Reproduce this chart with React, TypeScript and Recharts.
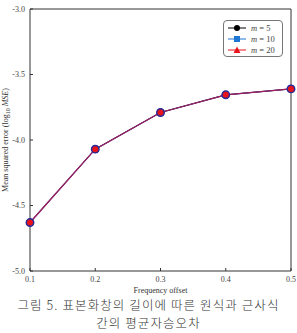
import React from 'react';
import { LineChart, Line, XAxis, YAxis, ReferenceLine } from 'recharts';

const offsets = [0.1, 0.2, 0.3, 0.4, 0.5];
const mse5 = [-4.63, -4.07, -3.79, -3.655, -3.61];
const mse10 = [-4.63, -4.07, -3.79, -3.655, -3.61];
const mse20 = [-4.63, -4.07, -3.79, -3.655, -3.61];
const xTicks = [0.1, 0.2, 0.3, 0.4, 0.5];
const yTicks = [-5.0, -4.5, -4.0, -3.5, -3.0];

const data = offsets.map((f, i) => ({ f, m5: mse5[i], m10: mse10[i], m20: mse20[i] }));

const serif = '"Liberation Serif", "Times New Roman", serif';
const tickStyle = { fontFamily: serif, fontSize: 8, fill: '#444' };

const YLabel = (props: any) => {
  const vb = props.viewBox || {};
  const cy = vb.y + vb.height / 2;
  return (
    <text
      x={0}
      y={0}
      transform={`translate(8, ${cy}) rotate(-90)`}
      textAnchor="middle"
      style={{ fontFamily: serif, fontSize: 8 }}
      fill="#333"
    >
      Mean squared error (log<tspan fontSize={6} dy={2}>10</tspan>
      <tspan dy={-2}> </tspan>
      <tspan fontStyle="italic">MSE</tspan>)
    </text>
  );
};

const XLabel = (props: any) => {
  const vb = props.viewBox || {};
  return (
    <text
      x={vb.x + vb.width / 2}
      y={vb.y + 22}
      textAnchor="middle"
      style={{ fontFamily: serif, fontSize: 8 }}
      fill="#333"
    >
      Frequency offset
    </text>
  );
};

const LegendBox = () => {
  const rows = [
    { label: '5', color: '#000', shape: 'circle' },
    { label: '10', color: '#1f77d4', shape: 'square' },
    { label: '20', color: '#e8141c', shape: 'triangle' },
  ];
  return (
    <div
      style={{
        position: 'absolute',
        left: 223,
        top: 20,
        border: '1px solid #777',
        borderRadius: 4,
        padding: '1px 5px 1px 3px',
        background: '#fff',
        width: 50,
      }}
    >
      {rows.map((r) => (
        <div key={r.label} style={{ display: 'flex', alignItems: 'center', height: 11 }}>
          <svg width={20} height={10}>
            <line x1={1} y1={5} x2={19} y2={5} stroke={r.color} strokeWidth={1} />
            {r.shape === 'circle' && <circle cx={10} cy={5} r={3} fill={r.color} />}
            {r.shape === 'square' && <rect x={7} y={2} width={6} height={6} fill={r.color} />}
            {r.shape === 'triangle' && <polygon points="10,1.5 13.5,8 6.5,8" fill={r.color} />}
          </svg>
          <span style={{ fontFamily: serif, fontSize: 8.5, color: '#444', marginLeft: 4 }}>
            <i>m</i> = {r.label}
          </span>
        </div>
      ))}
    </div>
  );
};

export default function App() {
  return (
    <div style={{ position: 'absolute', left: 0, top: 0, width: 297, height: 333, background: '#fff' }}>
      <LineChart width={297} height={296} data={data} margin={{ top: 9, right: 6, left: 0, bottom: 0 }}>
        <XAxis
          dataKey="f"
          type="number"
          domain={[0.1, 0.5]}
          ticks={xTicks}
          tickFormatter={(v: number) => v.toFixed(1)}
          height={25}
          stroke="#333"
          tick={tickStyle}
          tickSize={-3}
          tickMargin={8}
          label={<XLabel />}
        />
        <YAxis
          type="number"
          domain={[-5, -3]}
          ticks={yTicks}
          tickFormatter={(v: number) => v.toFixed(1)}
          width={30}
          stroke="#333"
          tick={tickStyle}
          tickSize={-3}
          tickMargin={8}
          label={<YLabel />}
        />
        <ReferenceLine y={-3} stroke="#333" />
        <ReferenceLine x={0.5} stroke="#333" />
        <Line
          dataKey="m5"
          stroke="#000"
          strokeWidth={1}
          dot={{ r: 3.5, fill: '#000', stroke: '#000' }}
          isAnimationActive={false}
        />
        <Line
          dataKey="m10"
          stroke="#2a3cb0"
          strokeWidth={1.3}
          dot={{ r: 3.8, fill: '#2a2a9a', stroke: '#2a2a9a' }}
          isAnimationActive={false}
        />
        <Line
          dataKey="m20"
          stroke="#d0143a"
          strokeOpacity={0.7}
          strokeWidth={1.3}
          dot={{ r: 3, fill: '#e8141c', stroke: 'none', fillOpacity: 1 }}
          isAnimationActive={false}
        />
      </LineChart>
      <div
        style={{
          position: 'absolute',
          top: 296,
          left: 0,
          width: 297,
          textAlign: 'center',
          fontFamily: '"Noto Sans CJK KR", sans-serif',
          fontWeight: 300,
          fontSize: 12.5,
          lineHeight: '18px',
          color: '#333',
          letterSpacing: 1.1,
        }}
      >
        그림 5. 표본화창의 길이에 따른 원식과 근사식
        <br />
        간의 평균자승오차
      </div>
      <LegendBox />
    </div>
  );
}
